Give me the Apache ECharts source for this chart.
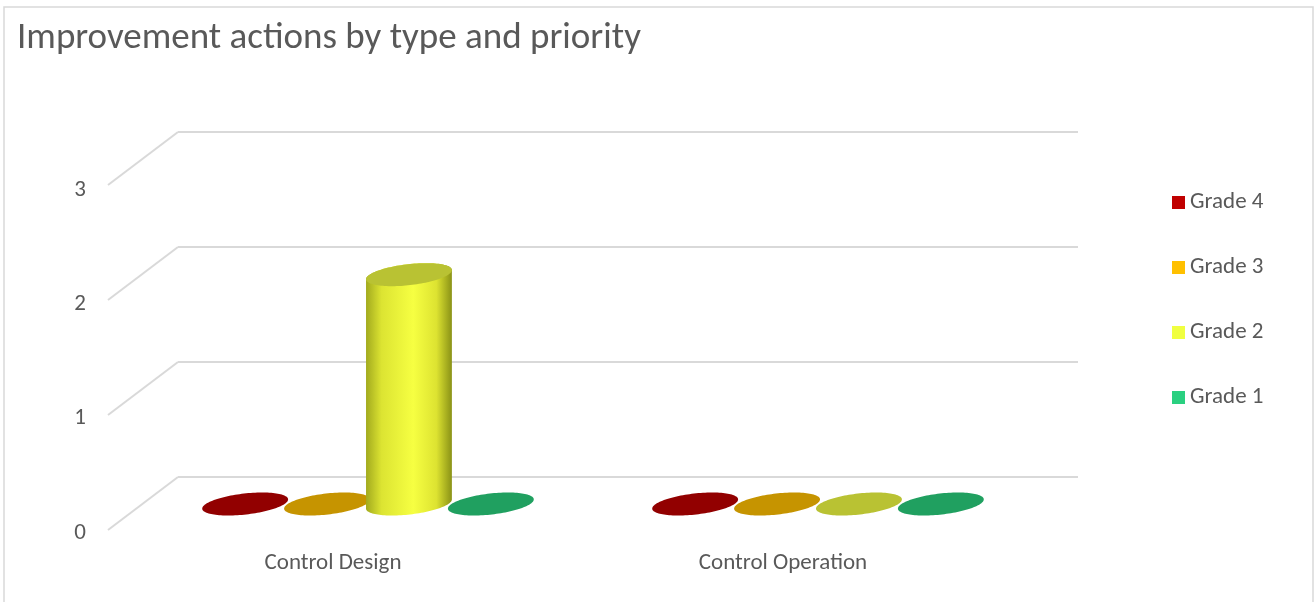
<!DOCTYPE html>
<html><head><meta charset="utf-8">
<script src="https://cdn.jsdelivr.net/npm/echarts@6/dist/echarts.min.js"></script>
<style>html,body{margin:0;padding:0;background:#fff}#c{width:1315px;height:602px}</style>
</head><body><div id="c"></div>
<script>
const categories = ['Control Design', 'Control Operation'];
const seriesNames = ['Grade 4', 'Grade 3', 'Grade 2', 'Grade 1'];
const grade4 = [0, 0];
const grade3 = [0, 0];
const grade2 = [2, 0];
const grade1 = [0, 0];
const yTicks = [0, 1, 2, 3];

const seriesValues = [grade4, grade3, grade2, grade1];
const legendColors = ['#c00000', '#ffc000', '#f0ff40', '#2ad080'];
const topColors = ['#920000', '#c69400', '#b9c233', '#20a060'];
const sideStops = [
  ['#7a0000', '#b00000', '#e00000', '#a00000', '#700000'],
  ['#a87c00', '#e0a800', '#ffc400', '#d8a000', '#946c00'],
  ['#a2aa1e', '#dce432', '#f6ff42', '#dde331', '#8a9216'],
  ['#17804a', '#24b068', '#2ee088', '#22a862', '#157844']
];
const FONT = 'Carlito, Lato, "Liberation Sans", sans-serif';
const TXT = '#595959';
const DEPTH = [-70, 53];

const chart = echarts.init(document.getElementById('c'), null, {renderer: 'canvas'});

function cylinderRender(i) {
  return function (params, api) {
    const cat = api.value(0), v = api.value(1);
    const bw = api.size([1, 0])[0];
    const base = api.coord([cat, 0]);
    const top = api.coord([cat, v]);
    const cx = base[0] + (i - 1.5) * bw * 0.182;
    const rx = bw * 0.096, ry = 10.5;
    const th = -6.5 * Math.PI / 180;
    const pt = (cy, t) => [
      cx + rx * Math.cos(t) * Math.cos(th) - ry * Math.sin(t) * Math.sin(th),
      cy + rx * Math.cos(t) * Math.sin(th) + ry * Math.sin(t) * Math.cos(th)
    ];
    const N = 60;
    const children = [];
    if (v > 0) {
      const pts = [];
      for (let k = 0; k <= N; k++) pts.push(pt(base[1], Math.PI * k / N));
      for (let k = 0; k <= N; k++) pts.push(pt(top[1], Math.PI + Math.PI * k / N));
      const s = sideStops[i];
      children.push({
        type: 'polygon', shape: {points: pts},
        style: {fill: new echarts.graphic.LinearGradient(0, 0, 1, 0, [
          {offset: 0, color: s[0]}, {offset: 0.18, color: s[1]}, {offset: 0.55, color: s[2]},
          {offset: 0.82, color: s[3]}, {offset: 1, color: s[4]}])}
      });
    }
    const tp = [];
    for (let k = 0; k < 2 * N; k++) tp.push(pt(top[1], Math.PI * k / N));
    children.push({type: 'polygon', shape: {points: tp}, style: {fill: topColors[i]}});
    return {type: 'group', children: children};
  };
}

const series = [];
// depth lines on back wall
series.push({
  type: 'custom', xAxisIndex: 0, yAxisIndex: 0, silent: true, z: 1,
  data: yTicks.map(v => [0, v]),
  renderItem: function (params, api) {
    const p = api.coord([0, api.value(1)]);
    return {type: 'line', shape: {x1: p[0], y1: p[1], x2: p[0] + DEPTH[0], y2: p[1] + DEPTH[1]},
      style: {stroke: '#d9d9d9', lineWidth: 2}};
  }
});
seriesNames.forEach((name, i) => {
  series.push({
    name: name, type: 'custom', xAxisIndex: 2, yAxisIndex: 2, z: 3 + (i === 2 ? 1 : 0),
    itemStyle: {color: legendColors[i]},
    data: seriesValues[i].map((v, c) => [c, v]),
    renderItem: cylinderRender(i)
  });
});

chart.setOption({
  animation: false,
  backgroundColor: '#fff',
  graphic: [{type: 'rect', shape: {x: 4, y: 7, width: 1309, height: 640},
    style: {fill: 'none', stroke: '#d9d9d9', lineWidth: 1.5}, silent: true, z: -1}],
  title: {text: 'Improvement actions by type and priority', left: 12, top: 15,
    textStyle: {fontFamily: FONT, fontSize: 37, fontWeight: 'normal', color: TXT}},
  legend: {
    data: seriesNames, orient: 'vertical', left: 1167, top: 186,
    icon: 'rect', itemWidth: 13, itemHeight: 13, itemGap: 42,
    textStyle: {fontFamily: FONT, fontSize: 23, color: TXT}
  },
  grid: [
    {left: 178, right: 237, top: 132, bottom: 125},
    {left: 108, right: 307, top: 190, bottom: 69},
    {left: 143, right: 272, top: 160, bottom: 98}
  ],
  xAxis: [
    {gridIndex: 0, type: 'value', min: 0, max: 1, show: false},
    {gridIndex: 1, type: 'category', data: categories, axisLine: {show: false}, axisTick: {show: false},
      axisLabel: {margin: 19, fontFamily: FONT, fontSize: 23, color: TXT}},
    {gridIndex: 2, type: 'category', data: categories, show: false}
  ],
  yAxis: [
    {gridIndex: 0, type: 'value', min: 0, max: 3, interval: 1, axisLabel: {show: false},
      axisLine: {show: false}, axisTick: {show: false},
      splitLine: {show: true, lineStyle: {color: '#d9d9d9', width: 2}}},
    {gridIndex: 1, type: 'value', min: 0, max: 3, interval: 1, axisLine: {show: false}, axisTick: {show: false},
      splitLine: {show: false}, axisLabel: {margin: 22, fontFamily: FONT, fontSize: 23, color: TXT}},
    {gridIndex: 2, type: 'value', min: 0, max: 3, interval: 1, show: false, splitLine: {show: false}}
  ],
  series: series
});
</script>
</body></html>
